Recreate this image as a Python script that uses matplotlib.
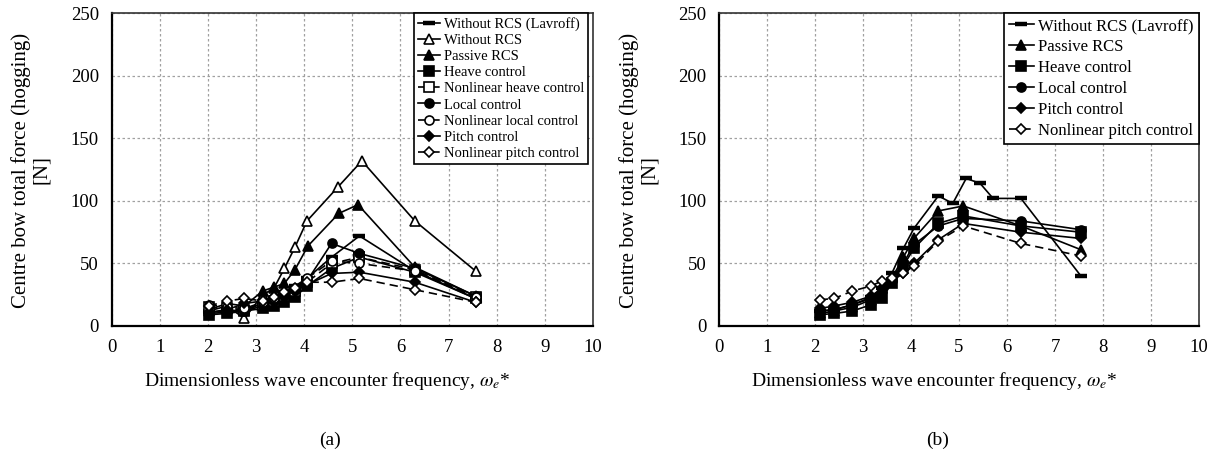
import matplotlib
matplotlib.use("Agg")
import matplotlib.pyplot as plt

plt.rcParams['font.family'] = ['Liberation Serif', 'DejaVu Serif']
plt.rcParams['mathtext.fontset'] = 'stix'

# ---------------- data: panel (a) ----------------
a_x_lav = [2.02, 2.40, 2.76, 3.14, 3.37, 3.59, 3.81, 4.06, 4.57, 5.15, 6.30, 7.56]
a_lav = [11, 12, 13, 18, 22, 27, 32, 38, 55, 72, 44, 22]
a_x_wo = [2.02, 2.40, 2.76, 3.14, 3.37, 3.59, 3.81, 4.06, 4.70, 5.20, 6.30, 7.56]
a_wo = [12, 16, 6, 25, 30, 46, 63, 84, 111, 132, 84, 44]
a_x_pas = [2.02, 2.40, 2.76, 3.14, 3.37, 3.59, 3.81, 4.08, 4.72, 5.12, 6.30, 7.56]
a_pas = [13, 18, 16, 28, 31, 34, 45, 64, 90, 97, 47, 24]
a_x_ctl = [2.02, 2.40, 2.76, 3.14, 3.37, 3.59, 3.81, 4.06, 4.57, 5.15, 6.30, 7.56]
a_heave = [9, 10, 12, 14, 16, 19, 23, 32, 46, 55, 43, 22]
a_nl_heave = [15, 14, 13, 17, 20, 24, 28, 35, 50, 55, 45, 23]
a_local = [10, 11, 12, 16, 20, 24, 29, 36, 66, 58, 46, 24]
a_nl_local = [17, 15, 14, 19, 22, 26, 30, 38, 52, 50, 44, 23]
a_pitch = [11, 13, 18, 20, 23, 25, 28, 33, 42, 43, 35, 19]
a_nl_pitch = [16, 20, 22, 20, 23, 27, 30, 35, 35, 38, 29, 19]

# ---------------- data: panel (b) ----------------
b_x_lav = [2.10, 2.40, 2.78, 3.17, 3.39, 3.60, 3.84, 4.06, 4.57, 4.87, 5.15, 5.44, 5.71, 6.29, 7.54]
b_lav = [12, 13, 17, 23, 30, 42, 62, 78, 104, 98, 118, 114, 102, 102, 40]
b_x = [2.10, 2.40, 2.78, 3.17, 3.39, 3.60, 3.84, 4.06, 4.57, 5.09, 6.29, 7.54]
b_pas = [10, 12, 15, 21, 30, 38, 55, 70, 92, 96, 80, 61]
b_heave = [9, 10, 12, 17, 22, 34, 48, 62, 82, 88, 80, 75]
b_local = [12, 13, 17, 22, 28, 37, 50, 65, 80, 86, 84, 77]
b_pitch = [14, 16, 19, 24, 30, 36, 42, 50, 69, 82, 75, 70]
b_nl_pitch = [21, 22, 28, 32, 36, 38, 42, 48, 68, 80, 66, 56]

x_ticks = list(range(0, 11))
y_ticks = [0, 50, 100, 150, 200, 250]
ylabel = "Centre bow total force (hogging)\n[N]"
xlabel = r"Dimensionless wave encounter frequency, $\omega_e$*"

W, H = 1219, 466
fig = plt.figure(figsize=(W / 100, H / 100), dpi=100)

ax_a = fig.add_axes([111.5 / W, 1 - 326 / H, (593 - 111.5) / W, (326 - 13.3) / H])
ax_b = fig.add_axes([719 / W, 1 - 326 / H, (1199 - 719) / W, (326 - 13.3) / H])

LW = 1.2
MS = 6.5


def style(ax):
    ax.set_xlim(0, 10)
    ax.set_ylim(0, 250)
    ax.set_xticks(x_ticks)
    ax.set_yticks(y_ticks)
    ax.grid(True, color='#a0a0a0', linestyle=(0, (2, 2)), linewidth=0.9)
    ax.set_axisbelow(True)
    ax.tick_params(axis='x', length=0, labelsize=13.5, pad=9)
    ax.tick_params(axis='y', length=0, labelsize=13.5, pad=9)
    for s in ['left', 'bottom']:
        ax.spines[s].set_linewidth(1.6)
        ax.spines[s].set_color('black')
    for s in ['top', 'right']:
        ax.spines[s].set_linewidth(1.2)
        ax.spines[s].set_color('#333333')


def dash_series(ax, x, y, label):
    ax.plot(x, y, color='black', lw=LW, marker='_', ms=9, mew=3.2, label=label)


def series(ax, x, y, marker, filled, label, dashed=False, ms=MS):
    ax.plot(x, y, color='black', lw=LW, ls=(0, (5, 3)) if dashed else '-',
            marker=marker, ms=ms, mec='black', mew=1.2,
            mfc='black' if filled else 'white', label=label)


# panel (a)
style(ax_a)
dash_series(ax_a, a_x_lav, a_lav, "Without RCS (Lavroff)")
series(ax_a, a_x_wo, a_wo, '^', False, "Without RCS")
series(ax_a, a_x_pas, a_pas, '^', True, "Passive RCS")
series(ax_a, a_x_ctl, a_heave, 's', True, "Heave control")
series(ax_a, a_x_ctl, a_nl_heave, 's', False, "Nonlinear heave control", dashed=True)
series(ax_a, a_x_ctl, a_local, 'o', True, "Local control")
series(ax_a, a_x_ctl, a_nl_local, 'o', False, "Nonlinear local control", dashed=True)
series(ax_a, a_x_ctl, a_pitch, 'D', True, "Pitch control", ms=5.5)
series(ax_a, a_x_ctl, a_nl_pitch, 'D', False, "Nonlinear pitch control", dashed=True, ms=5.5)

leg_a = ax_a.legend(loc='upper right', bbox_to_anchor=(1 - 5 / 481.5, 1.0), borderaxespad=0,
                    fontsize=10.5, frameon=True, fancybox=False, edgecolor='black',
                    framealpha=1, handlelength=1.5, handletextpad=0.3, borderpad=0.25,
                    labelspacing=0.2)
leg_a.get_frame().set_linewidth(1.2)

# panel (b)
style(ax_b)
dash_series(ax_b, b_x_lav, b_lav, "Without RCS (Lavroff)")
series(ax_b, b_x, b_pas, '^', True, "Passive RCS")
series(ax_b, b_x, b_heave, 's', True, "Heave control")
series(ax_b, b_x, b_local, 'o', True, "Local control")
series(ax_b, b_x, b_pitch, 'D', True, "Pitch control", ms=5.5)
series(ax_b, b_x, b_nl_pitch, 'D', False, "Nonlinear pitch control", dashed=True, ms=5.5)

leg_b = ax_b.legend(loc='upper right', bbox_to_anchor=(1.0, 1.0), borderaxespad=0,
                    fontsize=12, frameon=True, fancybox=False, edgecolor='black',
                    framealpha=1, handlelength=1.5, handletextpad=0.3, borderpad=0.3,
                    labelspacing=0.3)
leg_b.get_frame().set_linewidth(1.2)

# labels
fig.text(31 / W, 1 - 170 / H, ylabel, rotation=90, ha='center', va='center',
         fontsize=15, multialignment='center', linespacing=1.1)
fig.text(639 / W, 1 - 170 / H, ylabel, rotation=90, ha='center', va='center',
         fontsize=15, multialignment='center', linespacing=1.1)
fig.text(327 / W, 1 - 381 / H, xlabel, ha='center', va='center', fontsize=14)
fig.text(934 / W, 1 - 381 / H, xlabel, ha='center', va='center', fontsize=14)
fig.text(330 / W, 1 - 440 / H, "(a)", ha='center', va='center', fontsize=14)
fig.text(938 / W, 1 - 440 / H, "(b)", ha='center', va='center', fontsize=14)

fig.savefig("out.png", dpi=100)
